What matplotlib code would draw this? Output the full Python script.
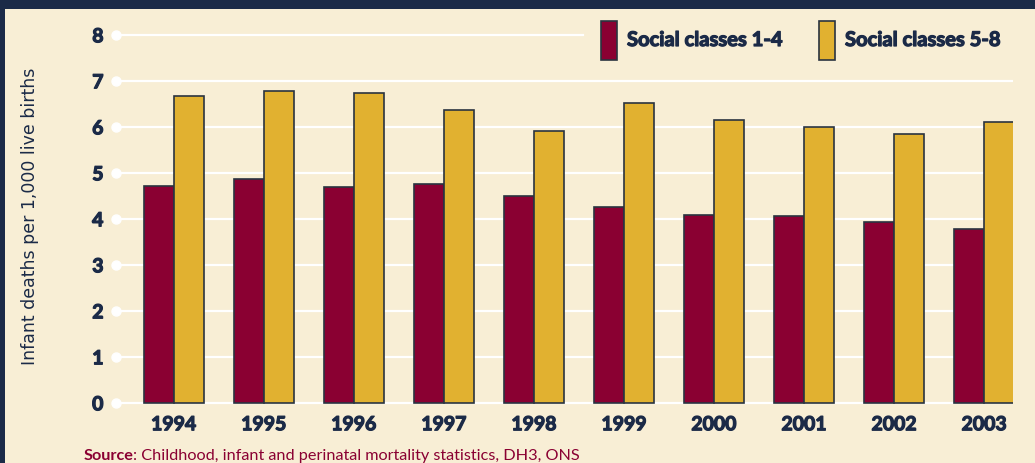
import matplotlib.pyplot as plt
import matplotlib.patheffects as pe
from matplotlib.patches import Rectangle
import numpy as np

# data
years = ["1994", "1995", "1996", "1997", "1998", "1999", "2000", "2001", "2002", "2003"]
classes_1_4 = [4.72, 4.87, 4.71, 4.76, 4.51, 4.27, 4.10, 4.07, 3.95, 3.78]
classes_5_8 = [6.69, 6.80, 6.75, 6.38, 5.93, 6.52, 6.15, 6.01, 5.85, 6.12]
y_ticks = [0, 1, 2, 3, 4, 5, 6, 7, 8]

bg = "#f8eed5"
navy = "#1b2a47"
red = "#8a0032"
gold = "#e1b130"
edge = "#2a3340"

plt.rcParams['font.family'] = ['Lato', 'DejaVu Sans']

# thicken the bold labels a touch (reference uses a heavy face)
heavy = [pe.withStroke(linewidth=0.9, foreground=navy)]

W, H = 1035, 464
fig = plt.figure(figsize=(W / 100, H / 100), dpi=100, facecolor=bg)

# axes placed in pixel terms: y=0 at 404px from top, 46px per unit
ymin, ymax = -0.1, 8.3
px_unit = 46
bottom_px = (H - 404.3) - (0 - ymin) * px_unit
ax_w = (1013 - 116) / W
ax = fig.add_axes([116 / W, bottom_px / H, ax_w, (ymax - ymin) * px_unit / H])
ax.set_facecolor(bg)

x = np.arange(len(years))
w = 0.333
ax.set_xlim(-0.64, 9.32)
ax.set_ylim(ymin, ymax)

for t in y_ticks:
    # top gridline stops short of the legend
    xmax = (583 - 116) / (1013 - 116) if t == 8 else 1
    ax.axhline(t, xmax=xmax, color="white", lw=1.6, zorder=0)
ax.plot([ax.get_xlim()[0]] * len(y_ticks), y_ticks, 'o', color="white", ms=6.5,
        clip_on=False, zorder=1)

ax.bar(x - w / 2, classes_1_4, w, color=red, edgecolor=edge, lw=1.2, zorder=2)
ax.bar(x + w / 2, classes_5_8, w, color=gold, edgecolor=edge, lw=1.2, zorder=2)

ax.set_yticks(y_ticks)
ax.set_yticklabels([str(t) for t in y_ticks], fontsize=14, fontweight='bold', color=navy)
ax.set_xticks(x)
ax.set_xticklabels(years, fontsize=14, fontweight='bold', color=navy)
for lab in ax.get_xticklabels() + ax.get_yticklabels():
    lab.set_path_effects(heavy)
ax.tick_params(axis='y', length=0, pad=9)
ax.tick_params(axis='x', length=0, pad=6)
for s in ax.spines.values():
    s.set_visible(False)

fig.text(30 / W, 1 - 216 / H, "Infant deaths per 1,000 live births", rotation=90,
         ha='center', va='center', fontsize=12.5, color=navy, family=['DejaVu Sans'])

# legend drawn by hand (tall swatches)
for x0, col, label in [(601, red, "Social classes 1-4"), (819, gold, "Social classes 5-8")]:
    fig.add_artist(Rectangle((x0 / W, 1 - 60.5 / H), 15.5 / W, 38.5 / H,
                             transform=fig.transFigure, facecolor=col, edgecolor=edge, lw=1.2))
    fig.text((x0 + 26) / W, 1 - 41 / H, label, ha='left', va='center',
             fontsize=14.5, fontweight='bold', color=navy, path_effects=heavy)

# source line
fig.text(84 / W, 1 - 456 / H, "Source", ha='left', va='center', fontsize=11.7,
         fontweight='bold', color=red)
fig.text(133 / W, 1 - 456 / H, ": Childhood, infant and perinatal mortality statistics, DH3, ONS",
         ha='left', va='center', fontsize=11.7, color=red)

# frame: navy bar on top and left edge
fig.add_artist(Rectangle((0, 1 - 10 / H), 1, 10 / H, transform=fig.transFigure,
                         facecolor=navy, edgecolor='none'))
fig.add_artist(Rectangle((0, 0), 5 / W, 1, transform=fig.transFigure,
                         facecolor=navy, edgecolor='none'))

fig.savefig("out.png", dpi=100, facecolor=bg)
